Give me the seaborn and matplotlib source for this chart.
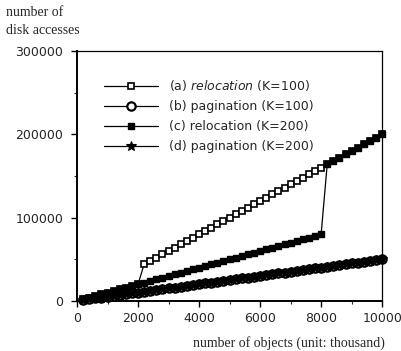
import matplotlib
matplotlib.use("Agg")
import matplotlib.pyplot as plt
import seaborn as sns
from matplotlib.ticker import MultipleLocator

# number of objects (unit: thousand)
objects = [200, 400, 600, 800, 1000, 1200, 1400, 1600, 1800, 2000,
           2200, 2400, 2600, 2800, 3000, 3200, 3400, 3600, 3800, 4000,
           4200, 4400, 4600, 4800, 5000, 5200, 5400, 5600, 5800, 6000,
           6200, 6400, 6600, 6800, 7000, 7200, 7400, 7600, 7800, 8000,
           8200, 8400, 8600, 8800, 9000, 9200, 9400, 9600, 9800, 10000]

# (a) relocation K=100
reloc_k100 = [2000, 4000, 6000, 8000, 10000, 12000, 14000, 16000, 18000, 20000,
              44000, 48000, 52000, 56000, 60000, 64000, 68000, 72000, 76000, 80000,
              84000, 88000, 92000, 96000, 100000, 104000, 108000, 112000, 116000, 120000,
              124000, 128000, 132000, 136000, 140000, 144000, 148000, 152000, 156000, 160000,
              164000, 168000, 172000, 176000, 180000, 184000, 188000, 192000, 196000, 200000]

# (b) pagination K=100
pag_k100 = [1000, 2000, 3000, 4000, 5000, 6000, 7000, 8000, 9000, 10000,
            11000, 12000, 13000, 14000, 15000, 16000, 17000, 18000, 19000, 20000,
            21000, 22000, 23000, 24000, 25000, 26000, 27000, 28000, 29000, 30000,
            31000, 32000, 33000, 34000, 35000, 36000, 37000, 38000, 39000, 40000,
            41000, 42000, 43000, 44000, 45000, 46000, 47000, 48000, 49000, 50000]

# (c) relocation K=200
reloc_k200 = [2000, 4000, 6000, 8000, 10000, 12000, 14000, 16000, 18000, 20000,
              22000, 24000, 26000, 28000, 30000, 32000, 34000, 36000, 38000, 40000,
              42000, 44000, 46000, 48000, 50000, 52000, 54000, 56000, 58000, 60000,
              62000, 64000, 66000, 68000, 70000, 72000, 74000, 76000, 78000, 80000,
              164000, 168000, 172000, 176000, 180000, 184000, 188000, 192000, 196000, 200000]

# (d) pagination K=200
pag_k200 = [1000, 2000, 3000, 4000, 5000, 6000, 7000, 8000, 9000, 10000,
            11000, 12000, 13000, 14000, 15000, 16000, 17000, 18000, 19000, 20000,
            21000, 22000, 23000, 24000, 25000, 26000, 27000, 28000, 29000, 30000,
            31000, 32000, 33000, 34000, 35000, 36000, 37000, 38000, 39000, 40000,
            41000, 42000, 43000, 44000, 45000, 46000, 47000, 48000, 49000, 50000]

x_ticks = [0, 2000, 4000, 6000, 8000, 10000]
y_ticks = [0, 100000, 200000, 300000]

sns.set_style("ticks")
plt.rcParams['font.family'] = ['DejaVu Sans']

fig = plt.figure(figsize=(4.01, 3.51), dpi=100)
ax = fig.add_axes([0.192, 0.1425, 0.761, 0.7125])

common = dict(color="black", linewidth=0.9, clip_on=False, markeredgecolor="black")
sns.lineplot(x=objects, y=reloc_k100, marker="s", markersize=4.5,
             markerfacecolor="white", markeredgewidth=1.2,
             label=r"(a) $\it{relocation}$ (K=100)", ax=ax, **common)
sns.lineplot(x=objects, y=pag_k100, marker="o", markersize=6,
             markerfacecolor="white", markeredgewidth=1.6,
             label="(b) pagination (K=100)", ax=ax, **common)
sns.lineplot(x=objects, y=reloc_k200, marker="s", markersize=4.8,
             markerfacecolor="black", markeredgewidth=1,
             label="(c) relocation (K=200)", ax=ax, **common)
sns.lineplot(x=objects, y=pag_k200, marker="*", markersize=7.5,
             markerfacecolor="black", markeredgewidth=0.8,
             label="(d) pagination (K=200)", ax=ax, **common)

ax.set_xlim(0, 10000)
ax.set_ylim(0, 300000)
ax.set_xticks(x_ticks)
ax.set_yticks(y_ticks)
ax.xaxis.set_minor_locator(MultipleLocator(1000))
ax.yaxis.set_minor_locator(MultipleLocator(50000))
ax.tick_params(axis="both", which="major", direction="out", length=4, width=1,
               labelsize=9, color="black")
ax.tick_params(axis="x", which="major", pad=4)
ax.tick_params(axis="y", which="major", pad=6)
ax.tick_params(axis="both", which="minor", direction="out", length=2, width=0.8)
for s in ax.spines.values():
    s.set_linewidth(0.9)
    s.set_color("black")
ax.spines["left"].set_linewidth(1.4)
ax.spines["bottom"].set_linewidth(1.4)
ax.set_xlabel("")
ax.set_ylabel("")

ax.legend(loc="upper left", bbox_to_anchor=(0.089, 0.89), frameon=False,
          borderpad=0, borderaxespad=0, handlelength=4.3, handletextpad=0.9,
          labelspacing=0.55, fontsize=9)

fig.text(0.015, 0.982, "number of\ndisk accesses", family="Liberation Serif",
         fontsize=10, ha="left", va="top", linespacing=1.45)
fig.text(0.72, 0.023, "number of objects (unit: thousand)", family="Liberation Serif",
         fontsize=10, ha="center", va="center")

fig.savefig("out.png", dpi=100)
